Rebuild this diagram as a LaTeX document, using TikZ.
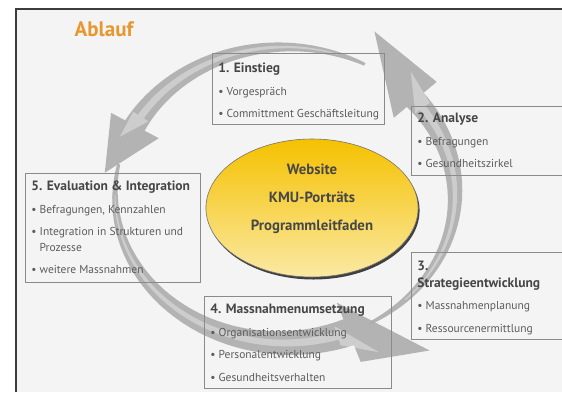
\documentclass[tikz,border=0pt]{standalone}
\usepackage{fontspec}
\setmainfont{PT Sans}
\usetikzlibrary{shapes.geometric}

\definecolor{ablauforange}{HTML}{E8962E}
\definecolor{paper}{HTML}{F4F4F4}
\definecolor{frameline}{HTML}{3C3C3C}
\definecolor{boxline}{HTML}{8A8A8A}
\definecolor{headgray}{HTML}{474747}
\definecolor{bodygray}{HTML}{5C5C5C}
\definecolor{coretop}{HTML}{F5C100}
\definecolor{corebottom}{HTML}{FAE9A4}
\definecolor{ringgray}{HTML}{ADADAD}

\newcommand{\bodyfont}{\fontsize{11.5}{22.5}\selectfont}
\newcommand{\stephead}[1]{{\fontsize{13.5}{22.5}\selectfont\bfseries\color{headgray}#1}}
\newcommand{\boxlines}[2]{\parbox[t]{#1}{\raggedright\leavevmode#2}}
\newcommand{\bul}[1]{\mbox{\textbullet\ #1}}

% ring of the cycle: centre and radii
\def\cx{285} \def\cy{195} \def\rx{170} \def\ry{148}
% [style] start angle, end angle, tail width, body width, head half width, tip angle, tip offset
\newcommand{\ringarrow}[8][ringfill]{%
  \fill[#1]
    plot[domain=#2:#3,samples=40]
      ({\cx+(\rx+(#4+(#5-(#4))*(\x-(#2))/(#3-(#2)))/2)*cos(\x)},
       {\cy-(\ry+(#4+(#5-(#4))*(\x-(#2))/(#3-(#2)))/2)*sin(\x)})
    -- ({\cx+(\rx+#6)*cos(#3)},{\cy-(\ry+#6)*sin(#3)})
    -- ({\cx+(\rx+#8)*cos(#7)},{\cy-(\ry+#8)*sin(#7)})
    -- ({\cx+(\rx-#6)*cos(#3)},{\cy-(\ry-#6)*sin(#3)})
    -- plot[domain=#3:#2,samples=40]
      ({\cx+(\rx-(#4+(#5-(#4))*(\x-(#2))/(#3-(#2)))/2)*cos(\x)},
       {\cy-(\ry-(#4+(#5-(#4))*(\x-(#2))/(#3-(#2)))/2)*sin(\x)})
    -- cycle;}

\begin{document}
\begin{tikzpicture}[x=1pt, y=-1pt,
    ringfill/.style={fill=ringgray, fill opacity=0.9},
    ringlight/.style={fill=white, fill opacity=0.35},
    stepbox/.style={draw=boxline, line width=0.8pt, anchor=north west,
      inner xsep=6pt, inner ysep=0pt, font=\bodyfont, text=bodygray},
    core/.style={ellipse, draw=black!55, line width=0.6pt,
      top color=coretop, bottom color=corebottom,
      minimum width=206pt, minimum height=138pt, inner sep=0pt,
      font=\fontsize{14.8}{28}\selectfont\bfseries, text=headgray,
      preaction={fill=black!75, transform canvas={shift={(1.5,2.5)}}}}]

  \useasboundingbox (0,0) rectangle (562,392);
  \clip (0,0) rectangle (562,392);
  \fill[white] (0,0) rectangle (562,392);
  \fill[paper] (16,9) rectangle (562,392);
  \draw[frameline, line width=1.2pt] (16,392) -- (16,9) -- (562,9);

  % the three arrows of the cycle
  \ringarrow{-60}{40}{3}{22}{28}{64}{34}
  \ringarrow[ringlight]{-45}{36}{1}{7}{9}{48}{18}
  \ringarrow{168}{292}{3}{28}{32}{310}{55}
  \ringarrow[ringlight]{180}{288}{1}{8}{10}{298}{30}
  \ringarrow{62}{152}{3}{22}{27}{172}{12}
  \ringarrow[ringlight]{72}{148}{1}{7}{9}{158}{8}

  \node[core, text height=12pt, text depth=79pt] (core) at (312,208)
    {\boxlines{150pt}{\centering Website\\KMU-Porträts\\Programmleitfaden}};

  \node[stepbox, text height=19.5pt, text depth=51.5pt] (einstieg) at (212,53)
    {\boxlines{160pt}{\stephead{1. Einstieg}\\\bul{Vorgespräch}\\\bul{Committment Geschäftsleitung}}};
  \node[stepbox, text height=16.5pt, text depth=52.5pt] (analyse) at (411,106)
    {\boxlines{165pt}{\stephead{2. Analyse}\\\bul{Befragungen}\\\bul{Gesundheitszirkel}}};
  \node[stepbox, text height=18pt, text depth=69pt] (strategie) at (411,252)
    {\boxlines{165pt}{\stephead{3.}\\[-5.5pt]\stephead{Strategieentwicklung}\\\bul{Massnahmenplanung}\\\bul{Ressourcenermittlung}}};
  \node[stepbox, text height=17.5pt, text depth=74.5pt] (umsetzung) at (204,296)
    {\boxlines{175pt}{\stephead{4. Massnahmenumsetzung}\\\bul{Organisationsentwicklung}\\\bul{Personalentwicklung}\\\bul{Gesundheitsverhalten}}};
  \node[stepbox, text height=17.5pt, text depth=91.5pt] (evaluation) at (25,173)
    {\boxlines{163pt}{\stephead{5. Evaluation \& Integration}\\\bul{Befragungen, Kennzahlen}\\\bul{Integration in Strukturen und}\\[-7pt]\hphantom{\textbullet\ }Prozesse\\\bul{weitere Massnahmen}}};

  \node[font=\fontsize{21}{24}\selectfont\bfseries, text=ablauforange] (ablauf) at (104,29) {Ablauf};
\end{tikzpicture}
\end{document}
